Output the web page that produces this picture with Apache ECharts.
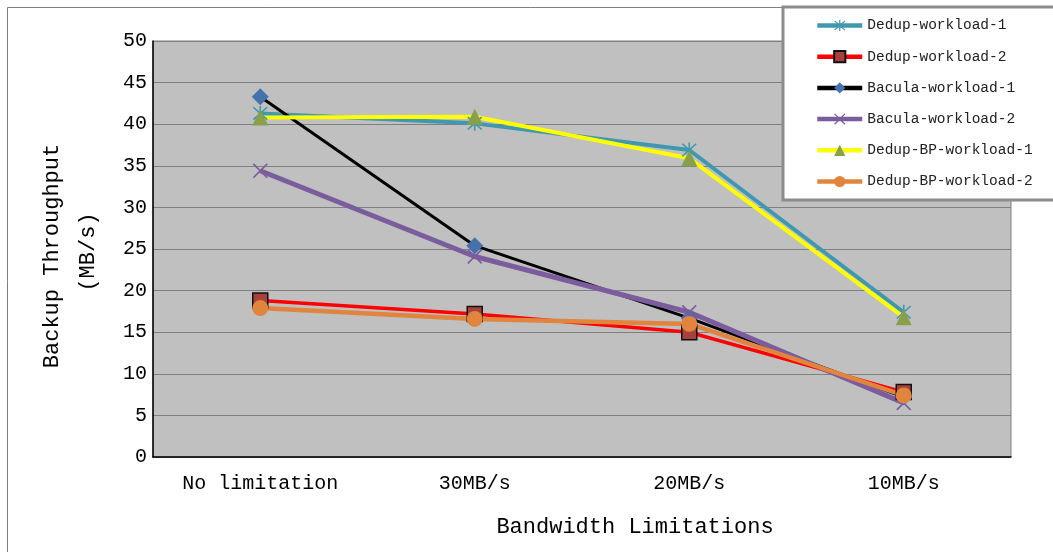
<!DOCTYPE html>
<html><head><meta charset="utf-8">
<script src="https://cdn.jsdelivr.net/npm/echarts@6/dist/echarts.min.js"></script>
<style>html,body{margin:0;padding:0;background:#fff}#c{width:1053px;height:552px}</style>
</head><body><div id="c"></div>
<script>
const categories = ['No limitation', '30MB/s', '20MB/s', '10MB/s'];
const dedupW1 = [41.3, 40.1, 36.9, 17.4];
const dedupW2 = [18.8, 17.2, 15.0, 7.8];
const baculaW1 = [43.3, 25.4, 16.7, 7.2];
const baculaW2 = [34.4, 24.1, 17.4, 6.5];
const dedupBPW1 = [40.8, 40.9, 35.9, 16.8];
const dedupBPW2 = [17.9, 16.6, 16.0, 7.4];
const yTicks = {min: 0, max: 50, interval: 5};

const FONT = '"Liberation Mono", "DejaVu Sans Mono", monospace';
const asterisk = 'path://M9,0L11,0L11,20L9,20Z M1,2.4L2.4,1L19,17.6L17.6,19Z M17.6,1L19,2.4L2.4,19L1,17.6Z';
const xMark = 'path://M1,2.4L2.4,1L19,17.6L17.6,19Z M17.6,1L19,2.4L2.4,19L1,17.6Z';

function s(name, data, color, width, symbol, size, symColor, symBorder) {
  return {
    name, type: 'line', data, symbol, symbolSize: size,
    lineStyle: {color, width},
    itemStyle: {color: symColor, borderColor: symBorder || symColor, borderWidth: symBorder ? 1.5 : 0},
    emphasis: {disabled: true}, animation: false
  };
}
const seriesList = [
  s('Dedup-workload-1', dedupW1, '#3f98b0', 4, asterisk, 15, '#3f98b0'),
  s('Dedup-workload-2', dedupW2, '#ff0000', 3.5, 'rect', 15, '#a8403c', '#111'),
  s('Bacula-workload-1', baculaW1, '#000000', 3, 'diamond', 17, '#4472aa'),
  s('Bacula-workload-2', baculaW2, '#7b5d9e', 5, xMark, 15, '#7b5d9e'),
  s('Dedup-BP-workload-1', dedupBPW1, '#ffff00', 4, 'triangle', 16, '#88a04a'),
  s('Dedup-BP-workload-2', dedupBPW2, '#e0843e', 4.5, 'circle', 16, '#e0843e')
];

const chart = echarts.init(document.getElementById('c'), null, {renderer: 'canvas'});
chart.setOption({
  animation: false,
  backgroundColor: '#ffffff',
  graphic: [{type: 'rect', shape: {x: 7.5, y: 7.5, width: 1200, height: 700}, style: {fill: 'none', stroke: '#7f7f7f', lineWidth: 1}, z: -1}],
  grid: {left: 153, top: 41, right: 42, bottom: 95, show: true, backgroundColor: '#c0c0c0', borderColor: '#808080', borderWidth: 1},
  legend: {
    orient: 'vertical', left: 783, top: 7,
    backgroundColor: '#ffffff', borderColor: '#8c8c8c', borderWidth: 3,
    padding: [11, 60, 11, 32],
    itemWidth: 45, itemHeight: 14, itemGap: 16.2,
    textStyle: {fontFamily: FONT, fontSize: 14.5, color: '#222'},
    data: seriesList.map(x => ({name: x.name, lineStyle: {width: 4.5}}))
  },
  xAxis: {
    type: 'category', data: categories, boundaryGap: true,
    axisLine: {lineStyle: {color: '#000', width: 1.5}},
    axisTick: {inside: true, length: 7, lineStyle: {color: '#000'}},
    axisLabel: {fontFamily: FONT, fontSize: 20, color: '#000', margin: 17},
    name: 'Bandwidth Limitations', nameLocation: 'middle', nameGap: 59,
    nameTextStyle: {fontFamily: FONT, fontSize: 22, color: '#000', padding: [0, 0, 0, 106]}
  },
  yAxis: {
    type: 'value', min: yTicks.min, max: yTicks.max, interval: yTicks.interval,
    axisLine: {show: true, lineStyle: {color: '#000', width: 1.5}},
    axisTick: {show: false},
    splitLine: {lineStyle: {color: '#808080', width: 1}},
    axisLabel: {fontFamily: FONT, fontSize: 20, color: '#000', margin: 6},
    name: '{a|Backup Throughput}\n{b|(MB/s)}', nameLocation: 'middle', nameGap: 47, nameRotate: 90,
    nameTextStyle: {
      rich: {
        a: {fontFamily: FONT, fontSize: 22, color: '#000', lineHeight: 36, padding: [0, 14, 0, 0]},
        b: {fontFamily: FONT, fontSize: 22, color: '#000', lineHeight: 36, padding: [0, 6, 0, 0]}
      }
    }
  },
  series: seriesList
});
</script></body></html>
